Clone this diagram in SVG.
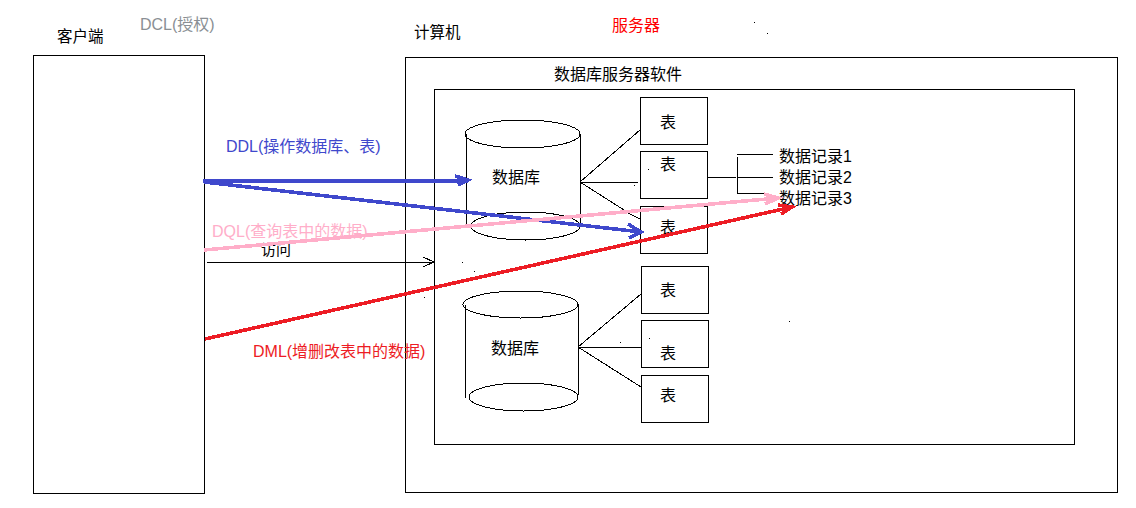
<svg xmlns="http://www.w3.org/2000/svg" width="1136" height="508" viewBox="0 0 1136 508">
<style>
.b{fill:#fff;stroke:#000;stroke-width:1;shape-rendering:crispEdges}
.c{fill:none;stroke:#000;stroke-width:1;shape-rendering:crispEdges}
.l{fill:none;stroke:#000;stroke-width:1;shape-rendering:crispEdges}
.t{font-family:"Noto Sans CJK SC","Liberation Sans",sans-serif;font-size:16px;fill:#000}
.h{font-size:15.500px}
.s{font-family:"Liberation Sans","Noto Sans CJK SC",sans-serif;font-size:16px}
.blue{fill:none;stroke:#3f48cc;stroke-width:3.600;shape-rendering:crispEdges}
.pink{fill:none;stroke:#ffaec9;stroke-width:3.600;shape-rendering:crispEdges}
.red{fill:none;stroke:#ed1c24;stroke-width:3.600;shape-rendering:crispEdges}
.dot{fill:#000}
</style>
<rect width="1136" height="508" fill="#fff"/>
<g id="client"><rect class="b" x="33.500" y="55.500" width="171" height="438"/><text class="t h" x="57" y="42">客户端</text></g>
<g id="computer"><rect class="b" x="405.500" y="57.500" width="712" height="435"/><text class="t h" x="414" y="38">计算机</text></g>
<g id="server-label"><text class="t" x="612" y="31" style="fill:#ff0000">服务器</text></g>
<g id="dcl-label"><text class="s" x="140" y="30" fill="#8a8f94">DCL(授权)</text></g>
<g id="software"><rect class="b" x="434.500" y="89.500" width="640" height="355"/><text class="t" x="554" y="80">数据库服务器软件</text></g>
<g id="db1">
<path class="c" d="M466.500 134V225M580.500 134V226"/>
<ellipse class="c" cx="522.500" cy="134" rx="57.500" ry="14"/>
<ellipse class="c" cx="525.500" cy="226" rx="54.500" ry="14"/>
<text class="t" x="492" y="183">数据库</text>
</g>
<g id="db2">
<path class="c" d="M465.500 305V398M578.500 304V395"/>
<ellipse class="c" cx="520.500" cy="304.500" rx="57.500" ry="13.500"/>
<ellipse class="c" cx="523.500" cy="397" rx="54.500" ry="14"/>
<text class="t" x="491" y="354">数据库</text>
</g>
<g id="t1"><rect class="b" x="640.500" y="97.500" width="67" height="47"/><text class="t" x="660" y="128">表</text></g>
<g id="t2"><rect class="b" x="640.500" y="151.500" width="67" height="47"/><text class="t" x="660" y="170">表</text></g>
<g id="t3"><rect class="b" x="640.500" y="206.500" width="67" height="47"/><text class="t" x="660" y="233">表</text></g>
<g id="t4"><rect class="b" x="641.500" y="266.500" width="67" height="47"/><text class="t" x="660" y="296">表</text></g>
<g id="t5"><rect class="b" x="641.500" y="320.500" width="67" height="47"/><text class="t" x="660" y="359">表</text></g>
<g id="t6"><rect class="b" x="641.500" y="375.500" width="67" height="47"/><text class="t" x="660" y="401">表</text></g>
<g id="records">
<text class="s" x="779" y="162">数据记录1</text>
<text class="s" x="779" y="183">数据记录2</text>
<text class="s" x="779" y="204">数据记录3</text>
</g>
<g id="labels">
<text class="s" x="226" y="152" style="fill:#3f48cc">DDL(操作数据库、表)</text>
<text class="s" x="212" y="237" style="fill:#ffaec9">DQL(查询表中的数据)</text>
<text class="t" x="261" y="255" style="font-size:15px">访问</text>
<text class="s" x="253" y="357" style="fill:#ed1c24">DML(增删改表中的数据)</text>
</g>
<g id="connectors">
<path class="l" d="M580 182L640 130M580 182.500H638M580 182L624 210M628 213L640 219"/>
<path class="l" d="M578 347L641 294M578 347.500H641M578 347L641 387"/>
<path class="l" d="M708 177.500H736M737.500 157V193M737 154.500H773M737 177.500H773M737 193.500H764"/>
<path class="l" d="M207 262.500H434M423 257L434 262L423 267"/>
<path class="blue" d="M203 181H468M455 176L468 180L458 185"/>
<path class="blue" d="M204 182L641 232M628 224L641 232L629 238"/>
<path class="pink" d="M204 250L778 198M764 194L778 198L765 204"/>
<path class="red" d="M205 339L792 207M778 205L792 207L781 214"/>
</g>
<g id="specks" class="dot">
<rect x="754" y="22" width="1" height="1"/><rect x="767" y="33" width="1" height="1"/>
<rect x="462" y="262" width="1" height="1"/><rect x="474" y="271" width="1" height="1"/>
<rect x="424" y="297" width="1" height="1"/><rect x="789" y="321" width="1" height="1"/>
<rect x="620" y="342" width="1" height="1"/><rect x="649" y="338" width="1" height="1"/>
<rect x="648" y="169" width="1" height="1"/><rect x="634" y="185" width="1" height="1"/>
</g>
</svg>
